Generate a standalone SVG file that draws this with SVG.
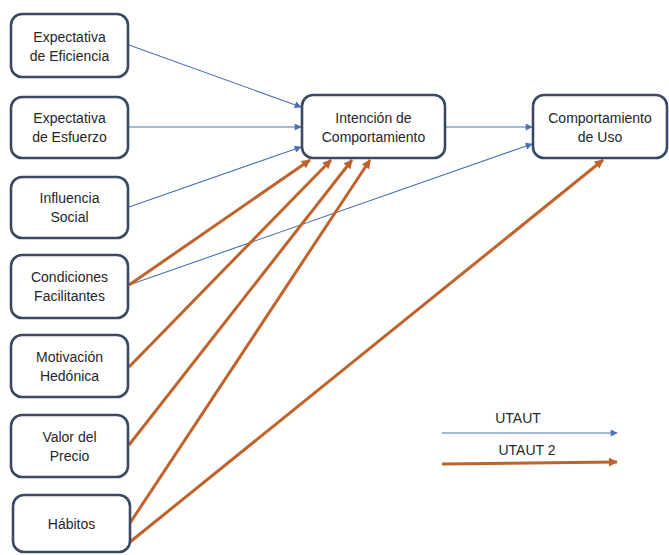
<svg xmlns="http://www.w3.org/2000/svg" width="669" height="555" viewBox="0 0 669 555">
  <style>
    .box { fill: #ffffff; stroke: #3b4a63; stroke-width: 2.6; }
    .lbl { font-family: "Liberation Sans", Arial, sans-serif; font-size: 14px; fill: #262626; text-anchor: middle; }
    .u1 { stroke: #4a72b0; stroke-width: 1.1; fill: none; marker-end: url(#headBlue); }
    .u2 { stroke: #c0632a; stroke-width: 3; fill: none; marker-end: url(#headOrange); }
  </style>
  <defs>
    <marker id="headBlue" viewBox="0 0 10 10" refX="9" refY="5" markerWidth="9" markerHeight="7" markerUnits="userSpaceOnUse" orient="auto">
      <path d="M0,0 L10,5 L0,10 z" fill="#4a72b0"/>
    </marker>
    <marker id="headOrange" viewBox="0 0 10 10" refX="9" refY="5" markerWidth="11" markerHeight="9" markerUnits="userSpaceOnUse" orient="auto">
      <path d="M0,0 L10,5 L0,10 z" fill="#c0632a"/>
    </marker>
  </defs>
  <rect width="669" height="555" fill="#ffffff"/>

  <!-- connectors -->
  <g id="connectors">
    <line class="u1" x1="129" y1="45" x2="301" y2="107"/>
    <line class="u1" x1="129" y1="127" x2="301" y2="127"/>
    <line class="u1" x1="129" y1="207" x2="301" y2="147"/>
    <line class="u1" x1="446" y1="127" x2="532" y2="127"/>
    <line class="u1" x1="129" y1="285" x2="532" y2="144"/>
    <line class="u2" x1="129" y1="285" x2="310" y2="160"/>
    <line class="u2" x1="129" y1="367" x2="331" y2="160"/>
    <line class="u2" x1="129" y1="445" x2="352" y2="160"/>
    <line class="u2" x1="130" y1="523" x2="370" y2="160"/>
    <line class="u2" x1="130" y1="542" x2="603" y2="160"/>
  </g>

  <!-- source constructs -->
  <g id="n-eficiencia">
    <rect class="box" x="11" y="14" width="117" height="63" rx="11"/>
    <text class="lbl" x="69.5" y="42">Expectativa</text>
    <text class="lbl" x="69.5" y="61">de Eficiencia</text>
  </g>
  <g id="n-esfuerzo">
    <rect class="box" x="11" y="97" width="117" height="61" rx="11"/>
    <text class="lbl" x="69.5" y="123">Expectativa</text>
    <text class="lbl" x="69.5" y="142">de Esfuerzo</text>
  </g>
  <g id="n-influencia">
    <rect class="box" x="11" y="177" width="117" height="61" rx="11"/>
    <text class="lbl" x="69.5" y="203">Influencia</text>
    <text class="lbl" x="69.5" y="222">Social</text>
  </g>
  <g id="n-condiciones">
    <rect class="box" x="11" y="255" width="117" height="63" rx="11"/>
    <text class="lbl" x="69.5" y="282">Condiciones</text>
    <text class="lbl" x="69.5" y="301">Facilitantes</text>
  </g>
  <g id="n-motivacion">
    <rect class="box" x="11" y="335" width="117" height="62" rx="11"/>
    <text class="lbl" x="69.5" y="362">Motivación</text>
    <text class="lbl" x="69.5" y="381">Hedónica</text>
  </g>
  <g id="n-precio">
    <rect class="box" x="11" y="415" width="117" height="62" rx="11"/>
    <text class="lbl" x="69.5" y="442">Valor del</text>
    <text class="lbl" x="69.5" y="461">Precio</text>
  </g>
  <g id="n-habitos">
    <rect class="box" x="13" y="495" width="117" height="57" rx="11"/>
    <text class="lbl" x="71.5" y="529">Hábitos</text>
  </g>

  <!-- outcome constructs -->
  <g id="n-intencion">
    <rect class="box" x="302" y="95" width="143" height="63" rx="11"/>
    <text class="lbl" x="373.5" y="123">Intención de</text>
    <text class="lbl" x="373.5" y="142">Comportamiento</text>
  </g>
  <g id="n-uso">
    <rect class="box" x="533" y="95" width="134" height="63" rx="11"/>
    <text class="lbl" x="600" y="123">Comportamiento</text>
    <text class="lbl" x="600" y="142">de Uso</text>
  </g>

  <!-- legend -->
  <g id="legend">
    <text class="lbl" x="518" y="423">UTAUT</text>
    <line class="u1" x1="442" y1="433" x2="617" y2="433"/>
    <text class="lbl" x="527" y="455">UTAUT 2</text>
    <line class="u2" x1="442" y1="464" x2="617" y2="462"/>
  </g>
</svg>
